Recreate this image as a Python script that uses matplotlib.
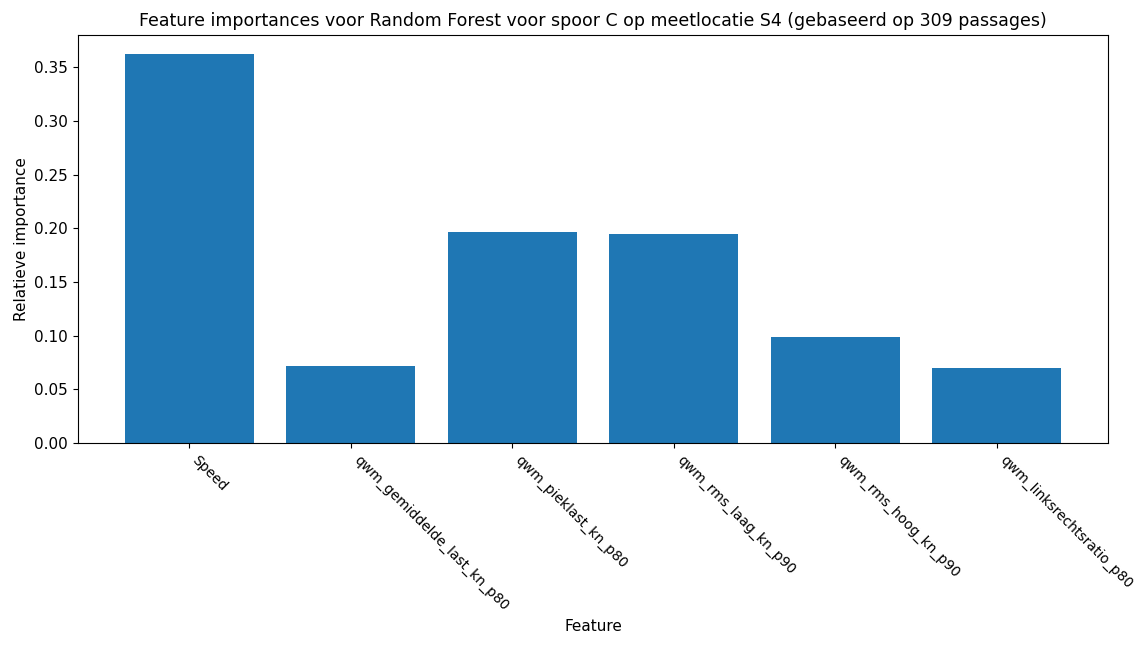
import matplotlib
matplotlib.use("Agg")
import matplotlib.pyplot as plt

# Feature importances
features = [
    "Speed",
    "qwm_gemiddelde_last_kn_p80",
    "qwm_pieklast_kn_p80",
    "qwm_rms_laag_kn_p90",
    "qwm_rms_hoog_kn_p90",
    "qwm_linksrechtsratio_p80",
]
importances = [0.362, 0.0715, 0.197, 0.195, 0.0985, 0.0695]

fig, ax = plt.subplots(figsize=(11.46, 6.45), dpi=100)
ax.bar(features, importances, color="#1f77b4")
ax.set_title("Feature importances voor Random Forest voor spoor C op meetlocatie S4 (gebaseerd op 309 passages)",
             fontsize=12.5)
ax.set_xlabel("Feature", fontsize=11)
ax.set_ylabel("Relatieve importance", fontsize=11)
ax.tick_params(axis="y", labelsize=11)
ax.tick_params(axis="x", labelsize=10)
plt.setp(ax.get_xticklabels(), rotation=-45, ha="left")

fig.subplots_adjust(left=0.068, right=0.967, top=0.946, bottom=0.313)
fig.savefig("out.png", dpi=100)
